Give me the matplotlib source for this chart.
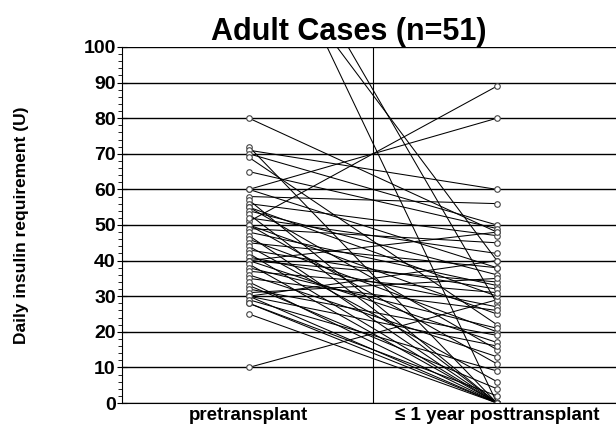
import matplotlib
matplotlib.use('Agg')
import matplotlib.pyplot as plt
from matplotlib.ticker import MultipleLocator

plt.rcParams['font.family'] = ['Liberation Sans', 'DejaVu Sans']
plt.rcParams['font.weight'] = 'bold'

# daily insulin requirement (U) per patient: before and within 1 year after transplant
pre = [146, 133, 148, 51, 60, 10, 80,
       72, 71, 70, 69, 65, 60, 58, 57, 56, 55, 55, 54, 53, 52, 50, 50,
       49, 48, 47, 46, 45, 44, 43, 42, 41, 40, 40, 40, 39, 38, 37, 36,
       35, 34, 33, 32, 31, 30, 30, 30, 29, 28, 28, 25]
post = [0, 40, 28, 89, 80, 29, 48,
        0, 60, 50, 22, 49, 38, 56, 0, 47, 30, 15, 36, 0, 42, 25, 11,
        45, 33, 0, 20, 38, 6, 32, 0, 27, 48, 17, 34, 0, 21, 31, 13,
        26, 0, 4, 19, 35, 40, 16, 0, 9, 2, 0, 0]
labels = ['pretransplant', '\u2264 1 year posttransplant']

fig = plt.figure(figsize=(6.16, 4.28), dpi=100)
ax = fig.add_axes([0.198, 0.0584, 0.802, 0.8318])

for y in range(0, 101, 10):
    ax.axhline(y, color='black', lw=1.0, zorder=1)
ax.axvline(0.5, color='black', lw=0.8, zorder=1)

for a, b in zip(pre, post):
    ax.plot([0, 1], [a, b], color='black', lw=0.75, marker='o', ms=4,
            mfc='white', mec='#444444', mew=0.8, zorder=2)

ax.set_xlim(-0.512, 1.48)
ax.set_ylim(0, 100)
ax.set_xticks([0, 1])
ax.set_xticklabels(labels, fontsize=13.5, fontweight='bold')
ax.tick_params(axis='x', length=0, pad=3)
ax.yaxis.set_major_locator(MultipleLocator(10))
ax.yaxis.set_minor_locator(MultipleLocator(2))
ax.tick_params(axis='y', which='major', direction='inout', length=7, labelsize=14, pad=1)
ax.tick_params(axis='y', which='minor', direction='out', length=3)
for lab in ax.get_yticklabels():
    lab.set_fontweight('bold')

ax.spines['top'].set_visible(False)
ax.spines['right'].set_visible(False)
ax.set_ylabel('Daily insulin requirement (U)', fontsize=12.5, fontweight='bold', labelpad=39)
ax.set_title('Adult Cases (n=51)', fontsize=22, fontweight='bold', pad=5, x=0.46)

fig.savefig('out.png', dpi=100)
